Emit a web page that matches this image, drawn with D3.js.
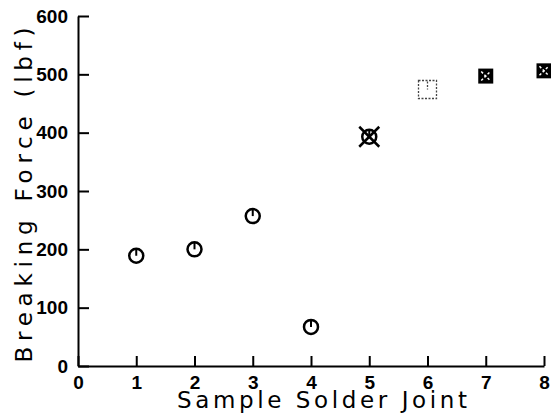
<!DOCTYPE html>
<html>
<head>
<meta charset="utf-8">
<script src="https://cdn.jsdelivr.net/npm/d3@7"></script>
<style>
	body { margin: 0; background: #fff; }
	svg { display: block; }
	.tick text { font-family: "Liberation Sans", Arial, sans-serif; font-weight: bold; font-size: 19px; fill: #000; }
	.title { font-family: "DejaVu Sans", sans-serif; font-size: 23px; fill: #000; }
</style>
</head>
<body>
<div id="chart"></div>
<script>

// data
const joints = [1, 2, 3, 4, 5, 6, 7, 8];
const breakingForce = [189, 200, 257, 67, 393, 474, 497, 506];
// failure mode code per joint, decides the marker
const failureMode = ['A', 'A', 'A', 'A', 'B', 'C', 'D', 'D'];

const xTicks = [0, 1, 2, 3, 4, 5, 6, 7, 8];
const yTicks = [0, 100, 200, 300, 400, 500, 600];

const xTitle = 'Sample Solder Joint';
const yTitle = 'Breaking Force (lbf)';

class ScatterChart {

	constructor(options) {
		this.element = options.element;
		this.draw();
	}

	draw() {
		this.width = 551;
		this.height = 415;
		this.left = 78;
		this.right = 544;
		this.top = 16;
		this.bottom = 366;

		this.createSVG();
		this.createScales();
		this.createAxes();
		this.createTitles();
		this.createPoints();
	}

	createSVG() {
		this.svg = d3.select(this.element)
			.append('svg')
				.attr('width', this.width)
				.attr('height', this.height);
	}

	createScales() {
		this.xScale = d3.scaleLinear()
			.domain([0, 8])
			.range([this.left, this.right]);

		this.yScale = d3.scaleLinear()
			.domain([0, 600])
			.range([this.bottom, this.top]);
	}

	createAxes() {
		this.xAxis = d3.axisBottom(this.xScale)
			.tickValues(xTicks)
			.tickFormat(d3.format('d'))
			.tickSizeInner(-10)
			.tickSizeOuter(0)
			.tickPadding(10);

		this.svg.append('g')
			.attr('class', 'xAxis')
			.attr('transform', `translate(0, ${this.bottom})`)
			.call(this.xAxis);

		this.yAxis = d3.axisLeft(this.yScale)
			.tickValues(yTicks)
			.tickFormat(d3.format('d'))
			.tickSizeInner(-11)
			.tickSizeOuter(0)
			.tickPadding(10);

		this.svg.append('g')
			.attr('class', 'yAxis')
			.attr('transform', `translate(${this.left}, 0)`)
			.call(this.yAxis);

		this.svg.selectAll('.domain, .tick line')
			.attr('stroke', '#000')
			.attr('stroke-width', 2);
	}

	createTitles() {
		this.svg.append('text')
			.attr('class', 'title')
			.attr('x', 322)
			.attr('y', 408)
			.attr('text-anchor', 'middle')
			.attr('textLength', 290)
			.attr('lengthAdjust', 'spacing')
			.text(xTitle);

		this.svg.append('text')
			.attr('class', 'title')
			.attr('transform', 'translate(32, 195) rotate(-90)')
			.attr('text-anchor', 'middle')
			.attr('textLength', 335)
			.attr('lengthAdjust', 'spacing')
			.text(yTitle);
	}

	createPoints() {
		var that = this;
		var data = joints.map((j, i) => ({ x: j, y: breakingForce[i], mode: failureMode[i] }));

		this.points = this.svg.append('g')
			.selectAll('g')
			.data(data)
			.join('g')
				.attr('transform', d => `translate(${that.xScale(d.x)}, ${that.yScale(d.y)})`);

		this.points.each(function(d) {
			var g = d3.select(this);
			if (d.mode === 'A' || d.mode === 'B') {
				g.append('circle')
					.attr('r', 7)
					.attr('fill', 'none')
					.attr('stroke', '#000')
					.attr('stroke-width', 2.5);
				g.append('line')
					.attr('y1', -7).attr('y2', 0)
					.attr('stroke', '#000')
					.attr('stroke-width', 2);
			}
			if (d.mode === 'B') {
				g.selectAll('.x')
					.data([[-10, -10, 10, 10], [-10, 10, 10, -10]])
					.join('line')
						.attr('x1', e => e[0]).attr('y1', e => e[1])
						.attr('x2', e => e[2]).attr('y2', e => e[3])
						.attr('stroke', '#000')
						.attr('stroke-width', 2.5);
			}
			if (d.mode === 'C') {
				g.append('rect')
					.attr('x', -9).attr('y', -9)
					.attr('width', 18).attr('height', 18)
					.attr('fill', 'none')
					.attr('stroke', '#444')
					.attr('stroke-width', 1.3)
					.attr('stroke-dasharray', '2,1.5');
				g.append('line')
					.attr('y1', -8).attr('y2', 0)
					.attr('stroke', '#444')
					.attr('stroke-width', 1.3)
					.attr('stroke-dasharray', '2,1.5');
			}
			if (d.mode === 'D') {
				g.append('rect')
					.attr('x', -7.5).attr('y', -7.5)
					.attr('width', 15).attr('height', 15)
					.attr('fill', '#000');
				g.selectAll('.x')
					.data([[-4.5, -4.5, 4.5, 4.5], [-4.5, 4.5, 4.5, -4.5]])
					.join('line')
						.attr('x1', e => e[0]).attr('y1', e => e[1])
						.attr('x2', e => e[2]).attr('y2', e => e[3])
						.attr('stroke', '#fff')
						.attr('stroke-width', 1.5)
						.attr('stroke-dasharray', '2.5,2');
			}
		});
	}

}

new ScatterChart({ element: '#chart' });

</script>
</body>
</html>
